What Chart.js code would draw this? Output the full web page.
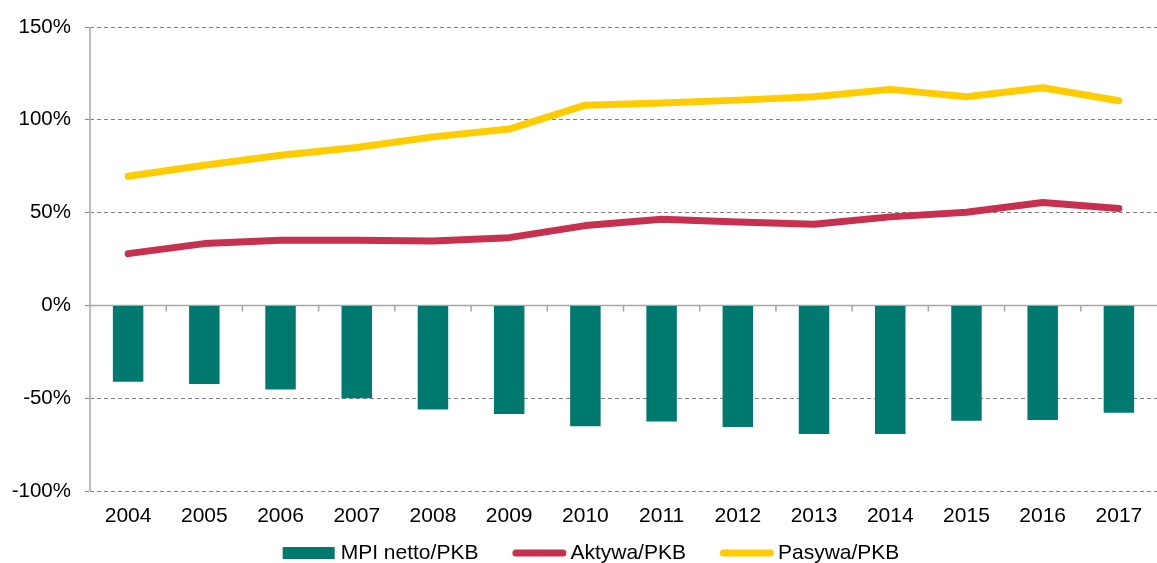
<!DOCTYPE html>
<html>
<head>
<meta charset="utf-8">
<script src="https://cdn.jsdelivr.net/npm/chart.js@4"></script>
<style>
  html, body { margin: 0; padding: 0; background: #fff; }
  #wrap { width: 1157px; height: 563px; position: relative; }
</style>
</head>
<body>
<div id="wrap"><canvas id="chart"></canvas></div>
<script>
const years = ['2004', '2005', '2006', '2007', '2008', '2009', '2010', '2011', '2012', '2013', '2014', '2015', '2016', '2017'];
const mpiNetto = [-41.2, -42.3, -45.3, -50.0, -56.1, -58.5, -65.1, -62.6, -65.5, -69.3, -69.3, -62.2, -61.7, -57.9];
const aktywa = [27.9, 33.3, 35.1, 35.1, 34.7, 36.5, 43.0, 46.4, 45.0, 43.7, 47.7, 50.2, 55.4, 52.2];
const pasywa = [69.6, 75.5, 80.9, 85.1, 90.8, 95.0, 107.9, 109.0, 110.6, 112.4, 116.4, 112.4, 117.3, 110.3];
const yTicks = [-100, -50, 0, 50, 100, 150];

const FONT = "'Liberation Sans', Arial, sans-serif";

// solid y axis, zero line and the little category ticks on it
const axisLines = {
  id: 'axisLines',
  beforeDatasetsDraw(chart) {
    const { ctx, chartArea, scales } = chart;
    const y0 = scales.y.getPixelForValue(0);
    ctx.save();
    ctx.strokeStyle = '#a6a6a6';
    ctx.lineWidth = 1.5;
    ctx.beginPath();
    ctx.moveTo(chartArea.left, chartArea.top);
    ctx.lineTo(chartArea.left, chartArea.bottom);
    ctx.moveTo(chartArea.left, y0);
    ctx.lineTo(chartArea.right, y0);
    for (let i = 1; i < years.length; i++) {
      const x = (scales.x.getPixelForValue(i - 1) + scales.x.getPixelForValue(i)) / 2;
      ctx.moveTo(x, y0);
      ctx.lineTo(x, y0 + 6);
    }
    ctx.stroke();
    ctx.restore();
  }
};

// legend row at the bottom (the built-in one can't space it like the original)
const legendRow = {
  id: 'legendRow',
  afterDraw(chart) {
    const { ctx } = chart;
    const ds = chart.data.datasets;
    const swatch = 54, gapText = 4, gapItem = 34, y = 553;
    ctx.save();
    ctx.font = '21px ' + FONT;
    const widths = ds.map(d => swatch + gapText + ctx.measureText(d.label).width);
    const total = widths.reduce((a, b) => a + b, 0) + gapItem * (ds.length - 1);
    let x = 591 - total / 2;
    ds.forEach((d, i) => {
      if (d.type === 'bar') {
        ctx.fillStyle = d.backgroundColor;
        ctx.fillRect(x, y - 6, swatch - 2, 12);
      } else {
        ctx.strokeStyle = d.borderColor;
        ctx.lineWidth = 7;
        ctx.lineCap = 'round';
        ctx.beginPath();
        ctx.moveTo(x + 3.5, y);
        ctx.lineTo(x + swatch - 3.5, y);
        ctx.stroke();
      }
      ctx.fillStyle = '#000';
      ctx.textAlign = 'left';
      ctx.textBaseline = 'middle';
      ctx.fillText(d.label, x + swatch + gapText, y);
      x += widths[i] + gapItem;
    });
    ctx.restore();
  }
};

new Chart(document.getElementById('chart'), {
  type: 'bar',
  data: {
    labels: years,
    datasets: [
      {
        type: 'bar',
        label: 'MPI netto/PKB',
        data: mpiNetto,
        backgroundColor: '#007A6E',
        borderWidth: 0,
        barPercentage: 0.4,
        categoryPercentage: 1.0,
        order: 2
      },
      {
        type: 'line',
        label: 'Aktywa/PKB',
        data: aktywa,
        borderColor: '#C8304F',
        backgroundColor: '#C8304F',
        borderWidth: 7,
        borderCapStyle: 'round',
        borderJoinStyle: 'round',
        pointRadius: 0,
        tension: 0,
        order: 1
      },
      {
        type: 'line',
        label: 'Pasywa/PKB',
        data: pasywa,
        borderColor: '#FFCC00',
        backgroundColor: '#FFCC00',
        borderWidth: 7,
        borderCapStyle: 'round',
        borderJoinStyle: 'round',
        pointRadius: 0,
        tension: 0,
        order: 0
      }
    ]
  },
  options: {
    responsive: true,
    maintainAspectRatio: false,
    animation: false,
    layout: { padding: { top: 27, right: 0, left: 0, bottom: 30 } },
    plugins: {
      tooltip: { enabled: false },
      legend: { display: false }
    },
    scales: {
      x: {
        grid: { display: false, drawTicks: false },
        border: { display: false },
        ticks: { color: '#000', font: { family: FONT, size: 21 }, padding: 13, maxRotation: 0 },
        afterFit(scale) { scale.height = 42; }
      },
      y: {
        min: -100,
        max: 150,
        afterBuildTicks(scale) { scale.ticks = yTicks.map(v => ({ value: v })); },
        grid: {
          color: '#808080',
          lineWidth: 1,
          drawTicks: true,
          tickLength: 5,
          tickColor: '#808080',
          tickBorderDash: [4, 3]
        },
        border: { display: false, dash: [4, 3] },
        ticks: {
          color: '#000',
          padding: 14,
          font: { family: FONT, size: 20.5 },
          callback: v => v + '%'
        },
        afterFit(scale) { scale.width = 90; }
      }
    }
  },
  plugins: [axisLines, legendRow]
});
</script>
</body>
</html>
